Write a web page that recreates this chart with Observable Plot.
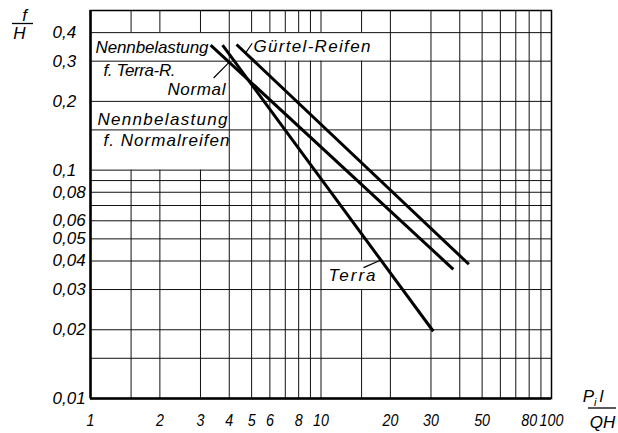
<!DOCTYPE html>
<html>
<head>
<meta charset="utf-8">
<script src="https://cdn.jsdelivr.net/npm/d3@7"></script>
<script src="https://cdn.jsdelivr.net/npm/@observablehq/plot@0.6"></script>
<style>
  html, body { margin: 0; padding: 0; background: #fff; }
  #chart svg { display: block; background: #fff; }
</style>
</head>
<body>
<div id="chart"></div>
<script>
// Tyre deflection f/H against the load ratio P_i·l/(Q·H), log–log
const series = ["Normal", "Terra", "Gürtel-Reifen"];
const loadRatio = [[3.32, 37.5], [3.74, 30.7], [4.30, 43.8]];
const deflection = [[0.353, 0.0368], [0.353, 0.0197], [0.355, 0.0387]];

const xTicks = [1, 2, 3, 4, 5, 6, 8, 10, 20, 30, 50, 80, 100];
const xTickLabels = ["1", "2", "3", "4", "5", "6", "8", "10", "20", "30", "50", "80", "100"];
const yTicks = [0.4, 0.3, 0.2, 0.1, 0.08, 0.06, 0.05, 0.04, 0.03, 0.02, 0.01];
const yTickLabels = ["0,4", "0,3", "0,2", "0,1", "0,08", "0,06", "0,05", "0,04", "0,03", "0,02", "0,01"];

const xGrid = [1.5, 2, 3, 4, 5, 6, 7, 8, 9, 10, 15, 20, 30, 40, 50, 60, 70, 80, 90];
const yGrid = [0.015, 0.02, 0.03, 0.04, 0.05, 0.06, 0.07, 0.08, 0.09, 0.1, 0.15, 0.2, 0.3, 0.4];

// line table built from the arrays above
const rows = series.flatMap((s, i) =>
  loadRatio[i].map((x, j) => ({series: s, x, y: deflection[i][j]}))
);

// label placement (text, anchor point, alignment, offset, set width)
const notes = [
  {text: "Nennbelastung", x: 1, y: 0.345, dx: 5, anchor: "start", w: 113},
  {text: "f. Terra-R.", x: 1, y: 0.272, dx: 13, anchor: "start", w: 72},
  {text: "Normal", x: 3.85, y: 0.2255, dx: 0, anchor: "end", w: 58},
  {text: "Nennbelastung", x: 1, y: 0.1665, dx: 7, anchor: "start", w: 130},
  {text: "f. Normalreifen", x: 1, y: 0.1354, dx: 13, anchor: "start", w: 126},
  {text: "Gürtel-Reifen", x: 5.09, y: 0.347, dx: 0, anchor: "start", w: 117},
  {text: "Terra", x: 10.78, y: 0.0346, dx: 0, anchor: "start", w: 47}
];
const leaders = [
  {x1: 3.42, y1: 0.2532, x2: 4.01, y2: 0.2977},
  {x1: 5.03, y1: 0.3595, x2: 4.70, y2: 0.325},
  {x1: 15.3, y1: 0.0374, x2: 18.4, y2: 0.0406}
];
// areas where the vertical rulings are left out behind the labels
const blanks = [
  {x1: 1, x2: 3.9, y1: 0.1, y2: 0.4},
  {x1: 4.9, x2: 17.5, y1: 0.3, y2: 0.4},
  {x1: 10.6, x2: 18, y1: 0.03, y2: 0.04}
];

const FONT = "'Liberation Sans', Arial, sans-serif";
const ink = "#111";
const textStyle = {fontSize: 17, fontStyle: "italic", fill: "#000"};

const chart = Plot.plot({
  width: 618,
  height: 433,
  marginLeft: 90,
  marginRight: 67,
  marginTop: 10,
  marginBottom: 35,
  style: {fontFamily: FONT, background: "#fff"},
  x: {type: "log", domain: [1, 100], axis: null},
  y: {type: "log", domain: [0.01, 0.5], axis: null},
  marks: [
    Plot.ruleX(xGrid, {y1: 0.01, y2: 0.5, stroke: ink, strokeWidth: 1}),
    Plot.rect(blanks, {x1: "x1", x2: "x2", y1: "y1", y2: "y2", fill: "#fff"}),
    Plot.ruleY(yGrid, {stroke: ink, strokeWidth: 1}),
    Plot.frame({stroke: "#000", strokeWidth: 1.5}),
    Plot.ruleX([1], {stroke: "#000", strokeWidth: 2.5}),
    Plot.ruleY([0.01], {stroke: "#000", strokeWidth: 2.5}),
    Plot.line(rows, {x: "x", y: "y", z: "series", stroke: "#000", strokeWidth: 3, strokeLinecap: "butt"}),
    Plot.link(leaders, {x1: "x1", y1: "y1", x2: "x2", y2: "y2", stroke: "#000", strokeWidth: 1.2}),
    ...notes.map((n) => Plot.text([n], {
      x: "x", y: "y", text: "text", textAnchor: n.anchor, dx: n.dx,
      ariaDescription: "note", ...textStyle
    })),
    Plot.text(xTicks, {
      x: (d) => d, y: 0.01, dy: 22, text: (d, i) => xTickLabels[i],
      ariaDescription: "xtick", ...textStyle
    }),
    Plot.text(yTicks, {
      x: 1, y: (d) => d, dx: -38, textAnchor: "start", text: (d, i) => yTickLabels[i],
      ...textStyle
    })
  ]
});

document.getElementById("chart").appendChild(chart);

// set label widths to the lettering's spacing
const svg = d3.select(chart);
svg.selectAll("g[aria-description=note] text").each(function (_, i) {
  const n = notes[i];
  if (n) d3.select(this).attr("textLength", n.w).attr("lengthAdjust", "spacing");
});
// narrower numerals on the x axis
svg.selectAll("g[aria-description=xtick] text").each(function () {
  const w = this.getComputedTextLength();
  d3.select(this).attr("textLength", w * 0.84).attr("lengthAdjust", "spacingAndGlyphs");
});

// axis titles written as fractions
const sx = chart.scale("x"), sy = chart.scale("y");
const frameL = sx.apply(1), frameR = sx.apply(100);
const frameT = sy.apply(0.5), frameB = sy.apply(0.01);
const titles = svg.append("g")
  .attr("font-family", FONT).attr("font-style", "italic").attr("font-size", 17).attr("fill", "#000");

titles.append("text").attr("x", frameL - 65.5).attr("y", frameT + 11).attr("text-anchor", "middle").text("f");
titles.append("line").attr("x1", frameL - 78).attr("x2", frameL - 57).attr("y1", frameT + 13.5).attr("y2", frameT + 13.5)
  .attr("stroke", "#000").attr("stroke-width", 1.3);
titles.append("text").attr("x", frameL - 70.5).attr("y", frameT + 29).attr("text-anchor", "middle").text("H");

const p = titles.append("text").attr("x", frameR + 42).attr("y", frameB + 4);
p.append("tspan").text("P");
p.append("tspan").attr("font-size", 11).attr("dy", 4).text("i");
p.append("tspan").attr("dy", -4).attr("dx", 3).text("l");
titles.append("line").attr("x1", frameR + 37).attr("x2", frameR + 65).attr("y1", frameB + 10).attr("y2", frameB + 10)
  .attr("stroke", "#000").attr("stroke-width", 1.3);
titles.append("text").attr("x", frameR + 51.5).attr("y", frameB + 30).attr("text-anchor", "middle").text("QH");
</script>
</body>
</html>
